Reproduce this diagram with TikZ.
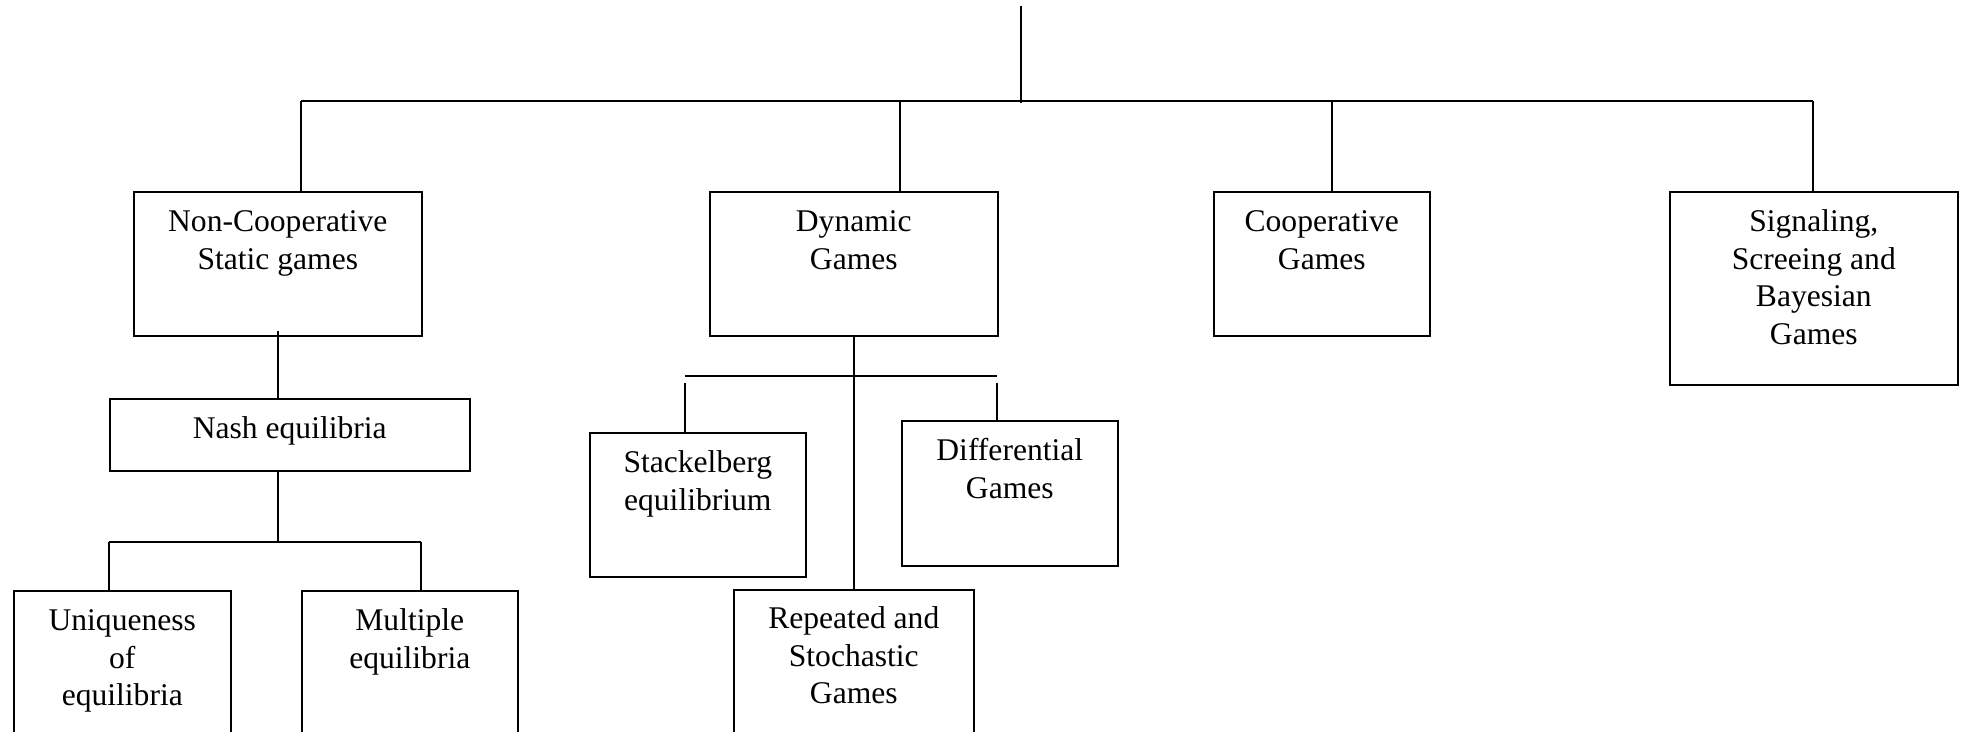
\documentclass[tikz,border=0pt]{standalone}
\usepackage{fontspec}
\setmainfont{Liberation Serif}
\newcommand{\pxu}{0.38pt}
\tikzset{
    every node/.style={font=\fontsize{12}{14.25}\selectfont},
    gbox/.style 2 args={draw,line width=0.6pt,align=center,inner sep=0pt,anchor=north west,
        text height=#1*\pxu,text depth=#2*\pxu},
    link/.style={line width=0.6pt}
}

\begin{document}
\begin{tikzpicture}[x=\pxu,y=-\pxu]
\useasboundingbox (0,0) rectangle (1964,732);
\clip (0,0) rectangle (1964,732);
% first level
\node[gbox={77.5}{66.5},minimum width=288*\pxu] (nc) at (133,191) {Non-Cooperative\\Static games};
\node[gbox={77.5}{66.5},minimum width=288*\pxu] (dyn) at (709,191) {Dynamic\\Games};
\node[gbox={77.5}{67},minimum width=216*\pxu] (coop) at (1213,191) {Cooperative\\Games};
\node[gbox={152.5}{40.5},minimum width=288*\pxu] (sig) at (1669,191) {Signaling,\\Screeing and\\Bayesian\\Games};
% under the static games
\node[gbox={40}{32},minimum width=360*\pxu] (nash) at (109,398) {Nash equilibria};
\node[gbox={115}{40},minimum width=217*\pxu] (uniq) at (13,590) {Uniqueness\\of\\equilibria};
\node[gbox={77.5}{77.5},minimum width=216*\pxu] (mult) at (301,590) {Multiple\\equilibria};
% under the dynamic games
\node[gbox={77.5}{66.5},minimum width=216*\pxu] (stack) at (589,432) {Stackelberg\\equilibrium};
\node[gbox={77.5}{67.5},minimum width=216*\pxu] (diff) at (901,420) {Differential\\Games};
\node[gbox={114}{42},minimum width=240*\pxu] (rep) at (733,589) {Repeated and\\Stochastic\\Games};

\coordinate (root) at (1021,6);
\coordinate (b1) at (301,101);
\coordinate (b2) at (900,101);
\coordinate (b3) at (1332,101);
\coordinate (b4) at (1813,101);
\draw[link] (root) -- ++(0,97);
\draw[link] (b1) -- (b4);
\foreach \b/\n in {b1/nc,b2/dyn,b3/coop,b4/sig}
    \draw[link] (\b) -- (\b |- \n.north);

\coordinate (f1) at (109,542);
\coordinate (f2) at (421,542);
\draw[link] (nc.south) ++(0,-6) -- (nash.north -| nc.south);
\draw[link] (nash.south -| nc.south) -- ++(0,69);
\draw[link] (f1) -- (f2);
\draw[link] (f1) -- (f1 |- uniq.north);
\draw[link] (f2) -- (f2 |- mult.north);

\coordinate (s1) at (685,376);
\coordinate (s2) at (997,376);
\draw[link] (dyn.south) -- (rep.north);
\draw[link] (s1) -- (s2);
\draw[link] (s1) ++(0,7) -- (s1 |- stack.north);
\draw[link] (s2) ++(0,7) -- (s2 |- diff.north);
\end{tikzpicture}
\end{document}
